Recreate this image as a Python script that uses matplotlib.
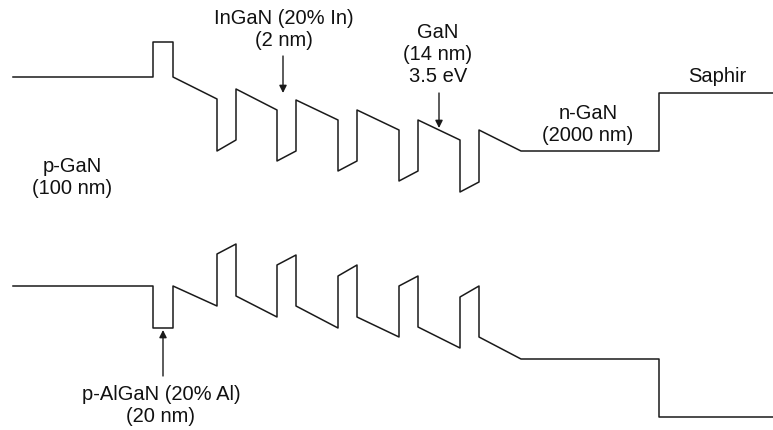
"""Bandschema för en InGaN/GaN-LED (ledningsband och valensband)."""

import matplotlib

matplotlib.use("Agg")

import matplotlib.pyplot as plt  # noqa: E402

plt.rcParams["font.family"] = ["Liberation Sans", "DejaVu Sans"]

# Skiktgränser (x) och bandkanter vid början/slutet av varje skikt.
# Skikt: p-GaN, p-AlGaN, GaN, 5 x (InGaN, GaN), n-GaN, Saphir
LAYER_X = [13, 153, 173, 217, 236, 277, 296, 338, 357, 399, 418, 460, 479, 521, 659, 773]
EC_START = [78, 43, 78, 152, 90, 162, 101, 172, 111, 182, 121, 193, 131, 152, 94]
EC_END = [78, 43, 100, 141, 111, 152, 121, 162, 131, 172, 141, 183, 152, 152, 94]
EV_START = [287, 329, 287, 255, 297, 266, 307, 277, 318, 287, 328, 298, 338, 360, 418]
EV_END = [287, 329, 307, 245, 318, 256, 329, 266, 338, 277, 349, 287, 360, 360, 418]

# Etiketter: (text, x, y)
LABELS = [
    ("InGaN (20% In)\n(2 nm)", 284, 30),
    ("GaN\n(14 nm)\n3.5 eV", 438, 54),
    ("n-GaN\n(2000 nm)", 588, 125),
    ("Saphir", 717, 77),
    ("p-GaN\n(100 nm)", 72, 178),
    ("p-AlGaN (20% Al)\n(20 nm)", 161, 406),
]

# Pilar: (svans, spets)
ARROWS = [
    ((283, 57), (283, 94)),
    ((439, 94), (439, 129)),
    ((163, 377), (163, 331)),
]

LINE = {"color": "#1a1a1a", "linewidth": 1.1}


def band_path(starts, ends):
    xs, ys = [], []
    for i in range(len(starts)):
        xs += [LAYER_X[i], LAYER_X[i + 1]]
        ys += [starts[i], ends[i]]
    return xs, ys


fig = plt.figure(figsize=(7.73, 4.31), dpi=100)
ax = fig.add_axes([0, 0, 1, 1])
ax.set_xlim(0, 773)
ax.set_ylim(431, 0)
ax.axis("off")

ax.plot(*band_path(EC_START, EC_END), **LINE)
ax.plot(*band_path(EV_START, EV_END), **LINE)

for text, x, y in LABELS:
    ax.text(x, y, text, ha="center", va="center", fontsize=14.5,
            linespacing=1.2, color="#111111")

for tail, tip in ARROWS:
    ax.annotate("", xy=tip, xytext=tail,
                arrowprops=dict(arrowstyle="-|>", color="#1a1a1a", lw=1.0,
                                mutation_scale=11, shrinkA=0, shrinkB=0))

fig.savefig("out.png", dpi=100)
